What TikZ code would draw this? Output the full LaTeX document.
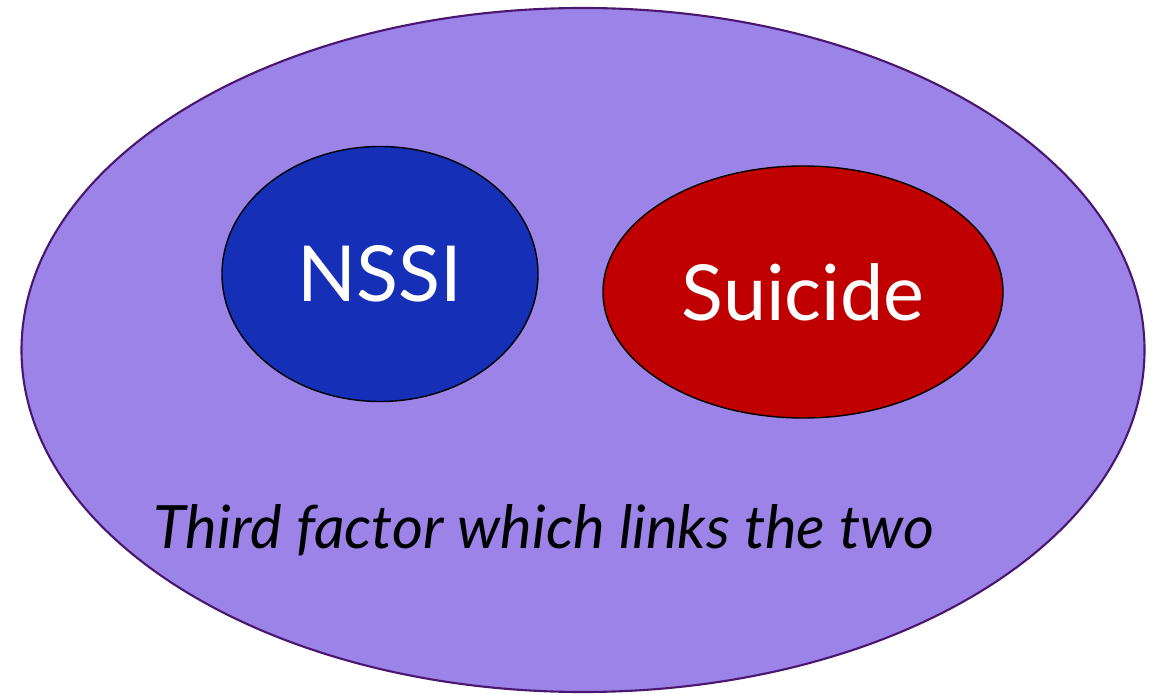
\documentclass[tikz,border=0pt]{standalone}
\usepackage{fontspec}
\setmainfont{Lato}
\definecolor{outerfill}{HTML}{9B83E8}
\definecolor{outerline}{HTML}{4A1670}
\definecolor{nssifill}{HTML}{1530B6}
\definecolor{suicfill}{HTML}{C00000}
\tikzset{
  blob/.style={ellipse, draw=black, line width=0.8pt, inner sep=0pt},
}
\usetikzlibrary{shapes.geometric}
\begin{document}
\begin{tikzpicture}[x=0.02cm,y=-0.02cm]
\useasboundingbox (0,0) rectangle (1155,695);
\node[ellipse, draw=outerline, fill=outerfill, line width=1.2pt, minimum width=1123*0.02cm, minimum height=684*0.02cm, inner sep=0pt] (outer) at (583,350) {};
\node[blob, fill=nssifill, minimum width=316*0.02cm, minimum height=255*0.02cm] (nssi) at (380,274) {};
\node[text=white, font=\fontsize{44}{50}\selectfont] (nssilabel) at (380,274) {NSSI};
\node[blob, fill=suicfill, minimum width=400*0.02cm, minimum height=252*0.02cm] (suic) at (803,292) {};
\node[text=white, font=\fontsize{44}{50}\selectfont] (suiclabel) at (803,292) {Suicide};
\node[text=black, font=\itshape\fontsize{34}{40}\selectfont] (third) at (544,530) {Third factor which links the two};
\end{tikzpicture}
\end{document}
